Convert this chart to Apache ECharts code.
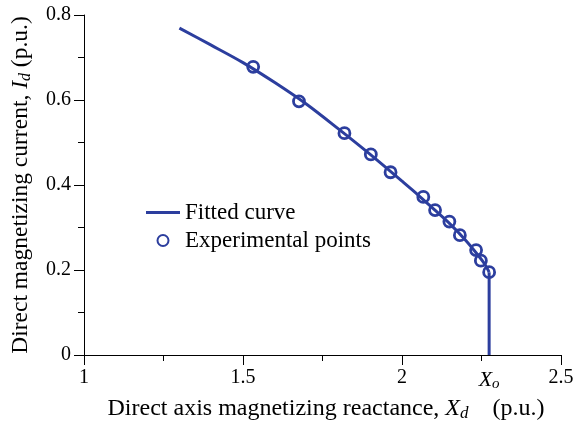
<!DOCTYPE html>
<html>
<head>
<meta charset="utf-8">
<script src="https://cdn.jsdelivr.net/npm/echarts@6/dist/echarts.min.js"></script>
<style>
  html, body { margin: 0; padding: 0; background: #fff; }
  #chart { width: 578px; height: 424px; }
</style>
</head>
<body>
<div id="chart"></div>
<script>
// Measured magnetizing characteristic: reactance Xd (p.u.) vs current Id (p.u.)
const experimentalXd = [1.532, 1.676, 1.819, 1.902, 1.964, 2.067, 2.104, 2.149, 2.182, 2.233, 2.248, 2.274];
const experimentalId = [0.678, 0.597, 0.522, 0.472, 0.430, 0.372, 0.341, 0.314, 0.282, 0.247, 0.222, 0.195];

// Fitted curve, ending with the drop at the unsaturated reactance Xo
const fittedXd = [1.30, 1.40, 1.50, 1.60, 1.70, 1.80, 1.90, 2.00, 2.05, 2.10, 2.15, 2.20, 2.24, 2.26, 2.274];
const fittedId = [0.769, 0.729, 0.688, 0.641, 0.590, 0.532, 0.472, 0.409, 0.377, 0.343, 0.309, 0.270, 0.234, 0.214, 0.195];
const Xo = 2.274;
const dropXd = [Xo, Xo];
const dropId = [0.195, 0];

// Labelled positions on the reactance axis
const xTicks = [1, 1.5, 2, Xo, 2.5];
const xTickText = ['1', '1.5', '2', '{i|X}{sub|o}', '2.5'];

const BLUE = '#2c3e9e';
const FONT = 'Liberation Serif';

const zip = (xs, ys) => xs.map((x, i) => [x, ys[i]]);

const chart = echarts.init(document.getElementById('chart'), null, { renderer: 'canvas' });

const titleRich = size => ({
  n: { fontFamily: FONT, fontSize: size, color: '#000' },
  i: { fontFamily: FONT, fontStyle: 'italic', fontSize: size, color: '#000' },
  sub: { fontFamily: FONT, fontStyle: 'italic', fontSize: Math.round(size * 0.7), color: '#000', padding: [10, 0, 0, 0] }
});

chart.setOption({
  animation: false,
  backgroundColor: '#fff',
  textStyle: { fontFamily: FONT, color: '#000' },
  grid: { left: 84, right: 17, top: 15, bottom: 69, containLabel: false, outerBoundsMode: 'none' },
  legend: {
    orient: 'vertical',
    left: 141,
    top: 196,
    itemWidth: 34,
    itemHeight: 11,
    itemGap: 5,
    symbolKeepAspect: true,
    textStyle: { fontFamily: FONT, fontSize: 23, color: '#000' },
    data: [
      { name: 'Fitted curve', icon: 'path://M0,0H34V3H0Z', itemStyle: { color: BLUE, borderWidth: 0 } },
      { name: 'Experimental points' }
    ]
  },
  xAxis: {
    type: 'value',
    min: 1,
    max: 2.5,
    interval: 0.5,
    splitLine: { show: false },
    axisLine: { onZero: false, lineStyle: { color: '#000', width: 1 } },
    axisTick: { show: true, length: 10, lineStyle: { color: '#000' } },
    minorTick: { show: true, splitNumber: 2, length: 6, lineStyle: { color: '#000' } },
    axisLabel: {
      customValues: xTicks,
      margin: 13,
      fontFamily: FONT,
      fontSize: 20,
      color: '#000',
      formatter: v => {
        const i = xTicks.findIndex(t => Math.abs(t - v) < 1e-9);
        return i >= 0 ? xTickText[i] : '';
      },
      rich: {
        i: { fontFamily: FONT, fontStyle: 'italic', fontSize: 22, color: '#000' },
        sub: { fontFamily: FONT, fontStyle: 'italic', fontSize: 15, color: '#000', padding: [9, 0, 0, 0] }
      }
    },
    name: '{n|Direct axis magnetizing reactance, }{i|X}{sub|d}{n|    (p.u.)}',
    nameLocation: 'middle',
    nameGap: 40,
    nameTextStyle: {
      padding: [0, 0, 0, 7],
      rich: titleRich(24)
    }
  },
  yAxis: {
    type: 'value',
    min: 0,
    max: 0.8,
    interval: 0.2,
    splitLine: { show: false },
    axisLine: { show: true, onZero: false, lineStyle: { color: '#000', width: 1 } },
    axisTick: { show: true, length: 10, lineStyle: { color: '#000' } },
    minorTick: { show: true, splitNumber: 2, length: 6, lineStyle: { color: '#000' } },
    axisLabel: { margin: 13, fontFamily: FONT, fontSize: 20, color: '#000' },
    name: '{n|Direct magnetizing current, }{i|I}{sub|d}{n| (p.u.)}',
    nameLocation: 'middle',
    nameGap: 50,
    nameRotate: 90,
    nameTextStyle: { rich: titleRich(23.5) }
  },
  series: [
    {
      name: 'Fitted curve',
      type: 'line',
      data: zip(fittedXd, fittedId),
      smooth: 0.3,
      symbol: 'none',
      lineStyle: { color: BLUE, width: 3 },
      itemStyle: { color: BLUE },
      z: 2
    },
    {
      name: 'Fitted curve',
      type: 'line',
      data: zip(dropXd, dropId),
      symbol: 'none',
      lineStyle: { color: BLUE, width: 3 },
      itemStyle: { color: BLUE },
      z: 2
    },
    {
      name: 'Experimental points',
      type: 'scatter',
      data: zip(experimentalXd, experimentalId),
      symbol: 'circle',
      symbolSize: 11,
      itemStyle: { color: 'rgba(0,0,0,0)', borderColor: BLUE, borderWidth: 2.8, opacity: 1 },
      z: 3
    }
  ]
});
</script>
</body>
</html>
